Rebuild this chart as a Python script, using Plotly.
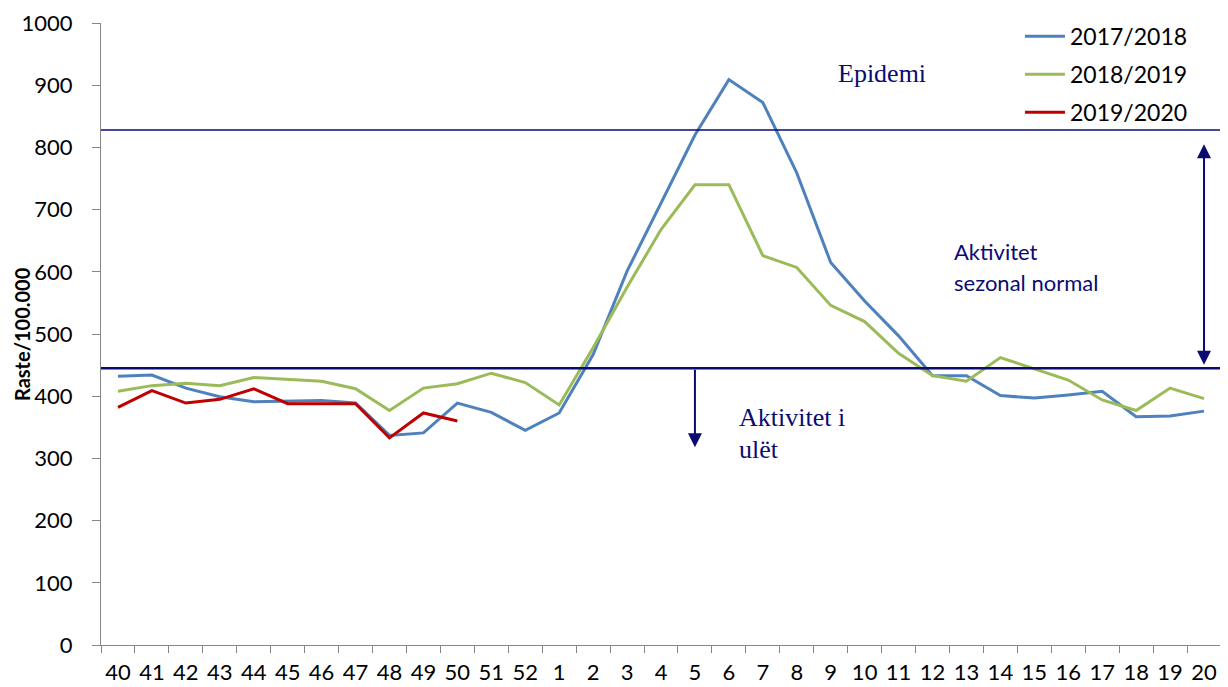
import plotly.graph_objects as go

weeks = ["40","41","42","43","44","45","46","47","48","49","50","51","52",
         "1","2","3","4","5","6","7","8","9","10","11","12","13","14","15","16","17","18","19","20"]

s_2017_2018 = [432, 434, 413, 399, 391, 392, 393, 389, 337, 341, 389, 374, 345,
               373, 467, 601, 711, 820, 909, 872, 759, 615, 553, 497, 433, 433, 401, 397, 402, 408, 367, 368, 376]
s_2018_2019 = [408, 417, 421, 417, 430, 427, 424, 412, 377, 413, 420, 437, 422,
               386, 478, 575, 668, 740, 740, 626, 607, 546, 520, 469, 433, 424, 462, 444, 426, 394, 377, 413, 396]
s_2019_2020 = [382, 409, 389, 395, 412, 388, 388, 388, 333, 373, 360]

epidemic_threshold = 828
base_threshold = 445

navy = "#0B0B72"
fig = go.Figure()
series = [("2017/2018", s_2017_2018, "#4F81BD"),
          ("2018/2019", s_2018_2019, "#9BBB59"),
          ("2019/2020", s_2019_2020, "#C00000")]
for name, vals, col in series:
    fig.add_trace(go.Scatter(x=weeks[:len(vals)], y=vals, mode="lines", name=name, legendgroup=name,
                             line=dict(color=col, width=3)))

fig.add_shape(type="line", xref="paper", x0=0, x1=1, yref="y", y0=epidemic_threshold, y1=epidemic_threshold,
              line=dict(color=navy, width=1.6))
fig.add_shape(type="line", xref="paper", x0=0, x1=1, yref="y", y0=base_threshold, y1=base_threshold,
              line=dict(color=navy, width=2.5))

# double arrow (normal seasonal activity)
fig.add_annotation(x=32, y=805, ax=32, ay=448, xref="x", yref="y", axref="x", ayref="y",
                   text="", showarrow=True, arrowhead=2, arrowside="end+start", arrowsize=1.4,
                   arrowwidth=2, arrowcolor=navy)
# down arrow (low activity)
fig.add_annotation(x=17, y=318, ax=17, ay=base_threshold, xref="x", yref="y", axref="x", ayref="y",
                   text="", showarrow=True, arrowhead=2, arrowsize=1.4, arrowwidth=2, arrowcolor=navy)

fig.add_annotation(x=22.5, y=919, xref="x", yref="y", text="Epidemi", showarrow=False,
                   font=dict(family="Liberation Serif", size=26, color=navy), xanchor="center", yanchor="middle")
fig.add_annotation(x=24.57, y=633, xref="x", yref="y", text="Aktivitet", showarrow=False,
                   xanchor="left", yanchor="middle", font=dict(family="Lato", size=22, color=navy))
fig.add_annotation(x=24.57, y=583, xref="x", yref="y", text="sezonal normal", showarrow=False,
                   xanchor="left", yanchor="middle", font=dict(family="Lato", size=22, color=navy))
fig.add_annotation(x=18.24, y=365, xref="x", yref="y", text="Aktivitet i", showarrow=False,
                   xanchor="left", yanchor="middle", font=dict(family="Liberation Serif", size=26, color=navy))
fig.add_annotation(x=18.24, y=314, xref="x", yref="y", text="ulët", showarrow=False,
                   xanchor="left", yanchor="middle", font=dict(family="Liberation Serif", size=26, color=navy))

fig.add_annotation(xref="paper", yref="paper", x=-0.0705, y=0.5, text="<b>Raste/100.000</b>",
                   textangle=-90, showarrow=False, xanchor="center", yanchor="middle",
                   font=dict(family="Lato", size=20, color="black"))

fig.update_layout(
    width=1228, height=687,
    margin=dict(l=93, r=15, t=15, b=49.5, autoexpand=False),
    paper_bgcolor="white", plot_bgcolor="white",
    font=dict(family="Lato", size=22, color="black"),
    showlegend=True,
    legend=dict(x=0.8205, y=1.013, xanchor="left", yanchor="top", bgcolor="rgba(0,0,0,0)",
                font=dict(family="Lato", size=23), itemwidth=40, tracegroupgap=5),
    xaxis=dict(type="category", categoryorder="array", categoryarray=weeks,
               range=[-0.5, 32.5], showgrid=False, showline=True, linecolor="#868686", linewidth=1.3,
               ticks="outside", tickson="boundaries", ticklen=7, tickcolor="#868686",
               tickangle=0, automargin=False, ticklabeloverflow="allow",
               ticklabelstandoff=7, tickfont=dict(family="Lato", size=22)),
    yaxis=dict(range=[0, 1000], dtick=100, showgrid=False, showline=True, linecolor="#868686", linewidth=1.3,
               ticks="outside", ticklen=8, tickcolor="#868686", zeroline=False, automargin=False,
               ticklabeloverflow="allow",
               ticklabelstandoff=15, tickfont=dict(family="Lato", size=22)),
)

fig.write_html("out.html")
